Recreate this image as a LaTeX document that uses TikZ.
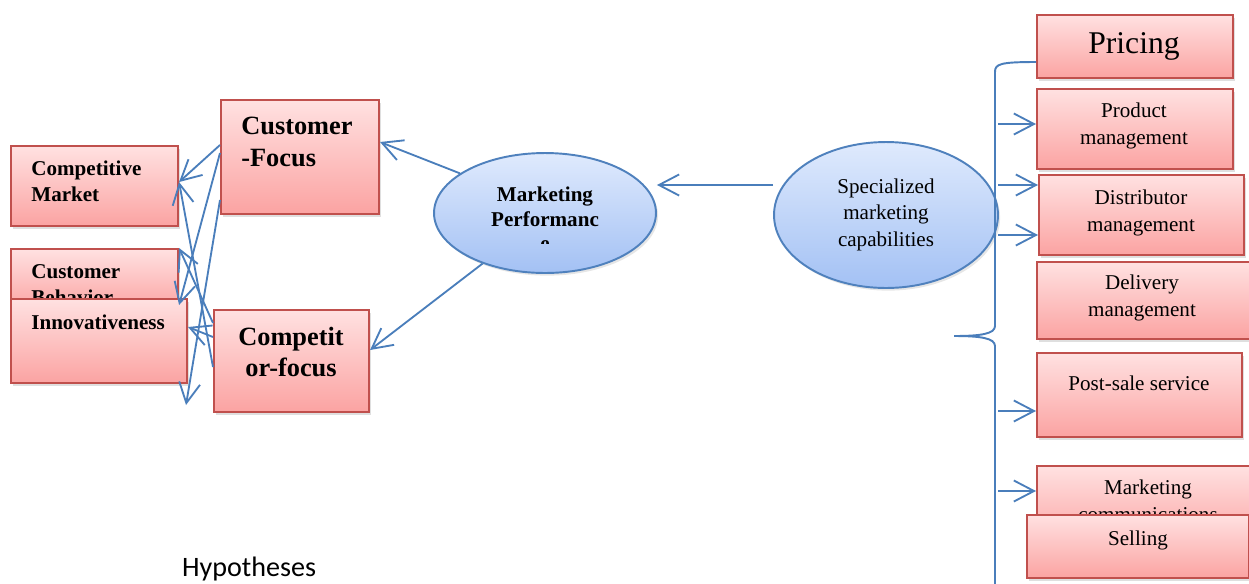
\documentclass[tikz,border=0pt]{standalone}
\usepackage{fontspec}
\setmainfont{Liberation Serif}
\newfontfamily\hypfont{Carlito}
\usetikzlibrary{arrows.meta,shapes.geometric,shadows}

\definecolor{boxred}{HTML}{C0504D}
\definecolor{pinktop}{HTML}{FFE1E1}
\definecolor{pinkbot}{HTML}{FBA3A2}
\definecolor{ovalblue}{HTML}{4F81BD}
\definecolor{bluetop}{HTML}{DFEAFD}
\definecolor{bluebot}{HTML}{A3C1F4}
\definecolor{linkblue}{HTML}{4A7EBB}

\tikzset{
  box/.style={draw=boxred, line width=1.2pt, top color=pinktop, bottom color=pinkbot,
    anchor=north west, inner sep=0pt,
    drop shadow={shadow xshift=1.2pt, shadow yshift=-1.5pt, opacity=0.25}},
  oval/.style={ellipse, draw=ovalblue, line width=1.1pt, top color=bluetop, bottom color=bluebot,
    inner sep=0pt, drop shadow={shadow xshift=1.2pt, shadow yshift=-1.5pt, opacity=0.2}},
  txt/.style={inner sep=0pt, align=center, font=\fontsize{12}{15.3}\selectfont},
  bold/.style={inner sep=0pt, align=left, anchor=west, font=\bfseries\fontsize{12}{14.7}\selectfont},
  big/.style={inner sep=0pt, font=\bfseries\fontsize{15}{18.1}\selectfont},
  arr/.style={linkblue, line width=1.05pt, -{Straight Barb[length=11.5pt,width=12pt]}},
}

\begin{document}
\begin{tikzpicture}[x=0.02cm,y=-0.02cm]
  \useasboundingbox (0,0) rectangle (1249,583);

  % left boxes
  \node[box, minimum width=3.34cm, minimum height=1.6cm] (cm) at (10,145) {};
  \node[bold] (cm-t) at (31,181.5) {Competitive\\Market};
  \node[box, minimum width=3.34cm, minimum height=1.24cm] (cb) at (10,248) {};
  \node[bold] (cb-t) at (31,284.8) {Customer\\Behavior};
  \node[box, minimum width=3.52cm, minimum height=1.68cm] (inn) at (10,298) {};
  \node[bold] (inn-t) at (31,321.8) {Innovativeness};
  \node[box, minimum width=3.16cm, minimum height=2.28cm] (cf) at (220,99) {};
  \node[big, anchor=west, align=left] (cf-t) at (241,142) {Customer\\-Focus};
  \node[box, minimum width=3.1cm, minimum height=2.04cm] (comp) at (213,309) {};
  \node[big, align=center] (comp-t) at (291,352) {Competit\\or-focus};

  % the two ovals
  \node[oval, minimum width=4.44cm, minimum height=2.4cm] (mp) at (545,213) {};
  \begin{scope}
    \clip (430,150) rectangle (660,243.5);
    \node[txt, font=\bfseries\fontsize{12}{13.8}\selectfont] (mp-t) at (545,218.8) {Marketing\\Performanc\\e};
  \end{scope}
  \node[oval, minimum width=4.48cm, minimum height=2.92cm] (sp) at (886,215) {};
  \node[txt, font=\fontsize{12}{15}\selectfont] (sp-t) at (886,214.6) {Specialized\\marketing\\capabilities};

  % right boxes
  \node[box, minimum width=3.92cm, minimum height=1.26cm] (pri) at (1036,14) {};
  \node[inner sep=0pt, font=\fontsize{18}{21}\selectfont] (pri-t) at (1134,46.6) {Pricing};
  \node[box, minimum width=3.92cm, minimum height=1.6cm] (pm) at (1036,88) {};
  \node[txt] (pm-t) at (1134,125.6) {Product\\management};
  \node[box, minimum width=4.1cm, minimum height=1.6cm] (db) at (1038,174) {};
  \node[txt] (db-t) at (1141,212.6) {Distributor\\management};
  \node[box, minimum width=4.32cm, minimum height=1.54cm] (dm) at (1036,261) {};
  \node[txt] (dm-t) at (1142,298) {Delivery\\management};
  \node[box, minimum width=4.1cm, minimum height=1.68cm] (ps) at (1036,352) {};
  \node[txt] (ps-t) at (1139,382.8) {Post-sale service};
  \node[box, minimum width=4.32cm, minimum height=1.6cm] (mc) at (1036,465) {};
  \node[txt] (mc-t) at (1148,500.8) {Marketing\\communications};
  \node[box, minimum width=4.44cm, minimum height=1.26cm] (sel) at (1026,514) {};
  \node[txt] (sel-t) at (1138,540) {Selling};

  % brace
  \draw[linkblue, line width=1.1pt] (pri.west |- 0,62) .. controls (1000,62) and (995,64) .. (995,72)
    -- (995,326) .. controls (995,334) and (980,336) .. (954,336);
  \draw[linkblue, line width=1.1pt] (954,336) .. controls (980,336) and (995,338) .. (995,346) -- (995,590);
  \foreach \b/\y in {pm/124,db/185,db/235,ps/411,mc/491}
    \draw[arr] (998,\y) -- (\b.west |- 0,\y);

  % links
  \draw[arr] (sp.west |- 0,185) -- (mp.east |- 0,185);
  \draw[arr] (mp.155) -- (cf.east |- 0,142);
  \draw[arr] (mp.219) -- (comp.east |- 0,350);

  \coordinate (loose) at (186,405);
  \draw[arr] (cf.west |- 0,145) -- (cm.east |- 0,182);
  \draw[arr] (cf.west |- 0,153) -- (cb.east |- 0,305);
  \draw[arr] (cf.west |- 0,200) -- (loose);
  \draw[arr] (comp.west |- 0,367) -- (cm.east |- 0,182);
  \draw[arr] (comp.west |- 0,323) -- (cb.north east);
  \draw[arr] (comp.west |- 0,337) -- (inn.east |- 0,327);

  \node[anchor=base west, inner sep=0pt, font=\hypfont\fontsize{16}{19}\selectfont] (hyp) at (181.7,576.7) {Hypotheses};
\end{tikzpicture}
\end{document}
